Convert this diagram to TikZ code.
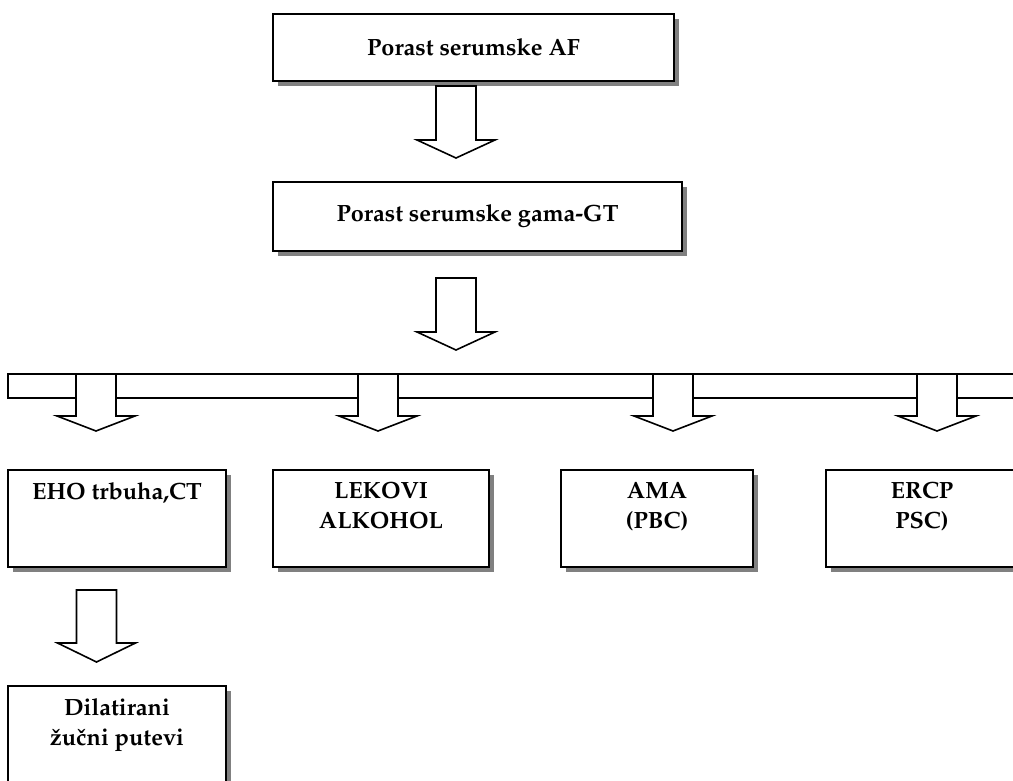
\documentclass[tikz,border=0pt]{standalone}
\usepackage[T1]{fontenc}
\usepackage{mathpazo}
\usepackage{tikz}
\usetikzlibrary{positioning,shadows}

\begin{document}
\begin{tikzpicture}[
  x=1pt, y=-1pt,
  font=\fontsize{23.5}{30}\selectfont\bfseries,
  box/.style={draw=black, line width=1.6pt, fill=white, inner sep=0pt, align=center,
    general shadow={fill=black!50, shadow xshift=5pt, shadow yshift=-5pt}},
  lbl/.style={inner sep=0pt, align=center},
  blk/.style={draw=black, line width=1.6pt, fill=white, line join=miter}
]
\useasboundingbox (0,0) rectangle (1013,781);
\node[box, minimum width=401pt, minimum height=67pt] (af) at (473.5,47.5) {Porast serumske AF};
\node[box, minimum width=409pt, minimum height=69pt] (ggt) at (477.5,216.5) {Porast serumske gama-GT};
\draw[blk] (436,86) -- ++(0,54) -- ++(-19,0) -- ++(39,18) -- ++(39,-18) -- ++(-19,0) -- ++(0,-54) -- cycle;
\draw[blk] (436,278) -- ++(0,54) -- ++(-19,0) -- ++(39,18) -- ++(39,-18) -- ++(-19,0) -- ++(0,-54) -- cycle;
% distribution bar
\draw[line width=1.6pt] (1020,374) -- (8,374) -- (8,398) -- (1020,398);
\foreach \x in {96,378,673,937}
  \draw[blk] (\x-20,374) -- ++(0,42) -- ++(-19,0) -- ++(39,15) -- ++(39,-15) -- ++(-19,0) -- ++(0,-42) -- cycle;
% second row
\node[box, minimum width=218pt, minimum height=97pt] (eho) at (117,518.5) {};
\node[box, minimum width=216pt, minimum height=97pt] (lek) at (381,518.5) {};
\node[box, minimum width=192pt, minimum height=97pt] (ama) at (657,518.5) {};
\node[box, minimum width=192pt, minimum height=97pt] (ercp) at (922,518.5) {};
\node[lbl, below=13pt of eho.north] (ehoT) {EHO trbuha,CT};
\node[lbl, below=13pt of lek.north] (lekT) {LEKOVI\\ALKOHOL};
\node[lbl, below=13pt of ama.north] (amaT) {AMA\\(PBC)};
\node[lbl, below=13pt of ercp.north] (ercpT) {ERCP\\PSC)};
\draw[blk] (76.5,590) -- ++(0,53) -- ++(-19,0) -- ++(39,19) -- ++(39,-19) -- ++(-19,0) -- ++(0,-53) -- cycle;
\node[box, minimum width=218pt, minimum height=97pt] (dil) at (117,734.5) {};
\node[lbl, below=13pt of dil.north] (dilT) {Dilatirani\\\v{z}u\v{c}ni putevi};
\end{tikzpicture}
\end{document}
